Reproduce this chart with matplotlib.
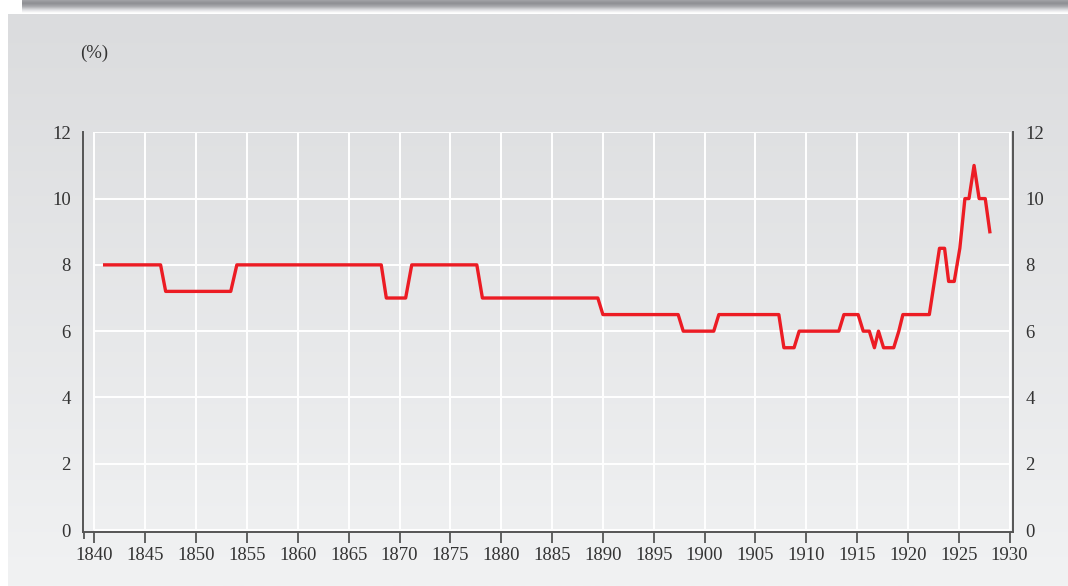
import matplotlib
matplotlib.use('Agg')
import matplotlib.pyplot as plt
from matplotlib.colors import LinearSegmentedColormap
import numpy as np

# bank rate (%) - vertices
years = [1841, 1846.5, 1847, 1853.4, 1854, 1868.2, 1868.7, 1870.6, 1871.2, 1877.6,
         1878.15, 1889.5, 1890, 1897.4, 1897.9, 1900.9, 1901.4, 1907.3, 1907.8, 1908.8,
         1909.3, 1913.2, 1913.7, 1915.1, 1915.6, 1916.2, 1916.7, 1917.1, 1917.6, 1918.6,
         1919.1, 1919.5, 1922.1, 1923.1, 1923.6, 1924.0, 1924.55, 1925.1, 1925.6, 1926.0,
         1926.5, 1927.0, 1927.6, 1928.05]
rate = [8, 8, 7.2, 7.2, 8, 8, 7, 7, 8, 8,
        7, 7, 6.5, 6.5, 6, 6, 6.5, 6.5, 5.5, 5.5,
        6, 6, 6.5, 6.5, 6, 6, 5.5, 6, 5.5, 5.5,
        6, 6.5, 6.5, 8.5, 8.5, 7.5, 7.5, 8.5, 10, 10,
        11, 10, 10, 9]
xticks = list(range(1840, 1931, 5))
yticks = list(range(0, 13, 2))

plt.rcParams['font.family'] = ['Liberation Serif', 'DejaVu Serif']
W, H = 1068, 586
fig = plt.figure(figsize=(W / 100, H / 100), dpi=100)

# background: top shadow band + grey gradient panel
bg = fig.add_axes([0, 0, 1, 1], zorder=-5)
bg.set_xlim(0, W)
bg.set_ylim(H, 0)
bg.axis('off')
shadow = np.linspace(0, 1, 60).reshape(-1, 1)
bg.imshow(shadow, cmap=LinearSegmentedColormap.from_list(
    'sh', ['#a2a3a7', '#8d8e92', '#a9aaae', '#dcdde0', '#ffffff']),
    extent=[22, W, 13, 0], aspect='auto', interpolation='bilinear')
grad = np.linspace(0, 1, 200).reshape(-1, 1)
bg.imshow(grad, cmap=LinearSegmentedColormap.from_list(
    'pn', ['#dbdcde', '#f1f2f3']), extent=[8, W, H, 14], aspect='auto')

ax = fig.add_axes([83.3 / W, 54 / H, (1012.7 - 83.3) / W, (532 - 132.3) / H])
ax.set_facecolor('none')
ax.hlines(yticks, 1840, 1930, color='white', lw=1.4, zorder=1)
ax.vlines(xticks, 0, 12, color='white', lw=1.4, zorder=1)
ax.plot(years, rate, color='#ec1c24', lw=2.4, zorder=3)

ax.set_xlim(1838.9, 1930.3)
ax.set_ylim(-0.06, 12)
ax.set_xticks(xticks)
ax.set_xticks([1838.95], minor=True)
ax.set_yticks(yticks)
ax.tick_params(axis='x', which='major', direction='out', length=8, width=1.3,
               color='#555555', labelsize=13.5, labelcolor='#333333', pad=3)
ax.tick_params(axis='x', which='minor', direction='out', length=5, width=1.3,
               color='#555555')
ax.tick_params(axis='y', length=0, labelsize=13.5, labelcolor='#333333', pad=9,
               labelright=True)
for side in ['left', 'right', 'bottom']:
    ax.spines[side].set_color('#555555')
    ax.spines[side].set_linewidth(1.4)
ax.spines['top'].set_visible(False)

fig.text(80 / W, 1 - 53 / H, '(%)', fontsize=13.5, color='#333333', va='center', ha='left')

fig.savefig('out.png', dpi=100)
